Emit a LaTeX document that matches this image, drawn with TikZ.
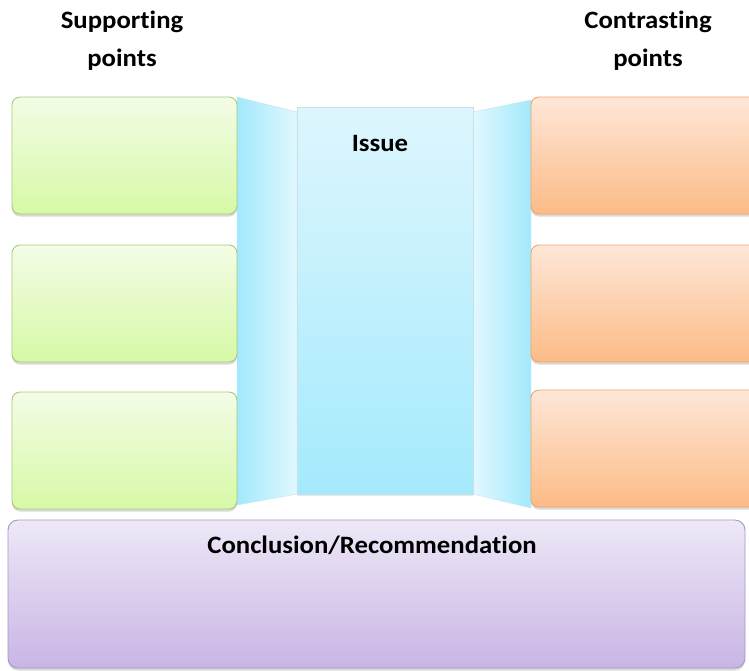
\documentclass[tikz,border=0pt]{standalone}
\usepackage{fontspec}
\setmainfont{Carlito}[Ligatures={NoCommon,NoContextual},FakeStretch=1.07]
\usetikzlibrary{shadows}
\definecolor{gtop}{HTML}{F3FCE6}
\definecolor{gbot}{HTML}{D7F9A6}
\definecolor{gbrd}{HTML}{A9C97E}
\definecolor{otop}{HTML}{FEE7D8}
\definecolor{obot}{HTML}{FCBB86}
\definecolor{obrd}{HTML}{EFA46C}
\definecolor{ptop}{HTML}{EEE8F7}
\definecolor{pbot}{HTML}{C8B5E5}
\definecolor{pbrd}{HTML}{A697C6}
\definecolor{cdark}{HTML}{A2E9FC}
\definecolor{clight}{HTML}{E2F8FE}
\definecolor{ctop}{HTML}{DEF6FE}
\definecolor{cbot}{HTML}{A4EAFC}
\definecolor{cbrd}{HTML}{C4E2EC}
\tikzset{
  box/.style={draw, line width=0.9pt, rounded corners=8pt, inner sep=0pt,
    drop shadow={shadow xshift=0pt, shadow yshift=-2.5pt, opacity=0.25, fill=black!60}},
  greenbox/.style={box, draw=gbrd, top color=gtop, bottom color=gbot,
    minimum width=225pt, minimum height=117pt},
  orangebox/.style={box, draw=obrd, top color=otop, bottom color=obot,
    minimum width=250pt, minimum height=117pt},
  heading/.style={font=\fontsize{25}{38}\selectfont\bfseries, align=center, inner sep=0pt},
  label/.style={font=\fontsize{25}{30}\selectfont\bfseries, inner sep=0pt}
}
\begin{document}
\begin{tikzpicture}[x=1pt,y=-1pt]
\useasboundingbox (0,0) rectangle (749,670);
\clip (0,0) rectangle (749,670);
% headings
\node[heading] (sup) at (122,41) {Supporting\\points};
\node[heading] (con) at (648,41) {Contrasting\\points};
% tri-fold board
\shade[left color=cdark, right color=clight, draw=cbrd, line width=0.4pt]
  (237,97) -- (297,112) -- (297,494) -- (237,505) -- cycle;
\shade[left color=clight, right color=cdark, draw=cbrd, line width=0.4pt]
  (473,112) -- (531,100) -- (531,508) -- (473,494) -- cycle;
\node[draw=cbrd, line width=0.6pt, top color=ctop, bottom color=cbot,
  minimum width=176pt, minimum height=387pt, inner sep=0pt,
  drop shadow={shadow xshift=0pt, shadow yshift=-1.5pt, opacity=0.15, fill=black!60}]
  (issuepanel) at (385,300.5) {};
\node[label] (issue) at (380,143) {Issue};
% supporting boxes
\node[greenbox] (s1) at (124.5,155.5) {};
\node[greenbox] (s2) at (124.5,303.5) {};
\node[greenbox] (s3) at (124.5,450.5) {};
% contrasting boxes
\node[orangebox] (c1) at (656,155.5) {};
\node[orangebox] (c2) at (656,303.5) {};
\node[orangebox] (c3) at (656,448.5) {};
% conclusion
\node[box, draw=pbrd, top color=ptop, bottom color=pbot, rounded corners=10pt,
  minimum width=737pt, minimum height=148pt] (concl) at (376.5,594) {};
\node[label] (concltext) at (372,545) {Conclusion/Recommendation};
\end{tikzpicture}
\end{document}
